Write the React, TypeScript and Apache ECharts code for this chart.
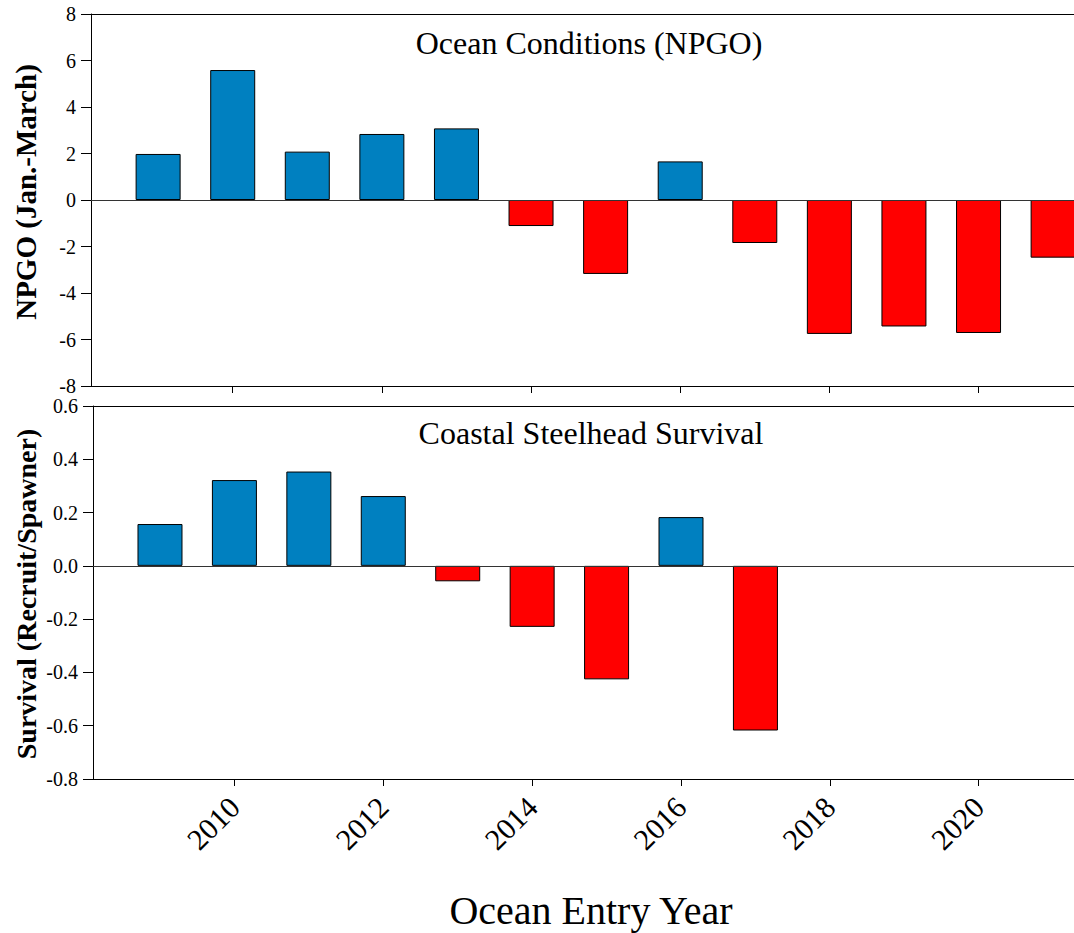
import React, { useEffect, useRef } from "react";
import * as echarts from "echarts";

// ---- Data ----
const npgoYears = [2009, 2010, 2011, 2012, 2013, 2014, 2015, 2016, 2017, 2018, 2019, 2020, 2021];
const npgoValues = [1.98, 5.59, 2.08, 2.84, 3.08, -1.12, -3.18, 1.66, -1.85, -5.76, -5.44, -5.72, -2.48];

const survivalYears = [2009, 2010, 2011, 2012, 2013, 2014, 2015, 2016, 2017];
const survivalValues = [0.157, 0.322, 0.354, 0.262, -0.058, -0.229, -0.426, 0.183, -0.618];

const xTickYears = [2010, 2012, 2014, 2016, 2018, 2020];

const npgoTitle = "Ocean Conditions (NPGO)";
const survivalTitle = "Coastal Steelhead Survival";
const npgoAxisName = "NPGO (Jan.-March)";
const survivalAxisName = "Survival (Recruit/Spawner)";
const xAxisName = "Ocean Entry Year";

const X_MIN = 2008.1;
const X_MAX = 2021.28;

const BLUE = "#0080C0";
const RED = "#FF0000";
const SERIF = "Liberation Serif";

function buildOption(): any {
  const barColor = (p: any) => (p.value[1] >= 0 ? BLUE : RED);
  const zeroLine = {
    silent: true,
    symbol: ["none", "none"],
    label: { show: false },
    lineStyle: { color: "#333", width: 1, type: "solid" },
    data: [{ yAxis: 0 }],
  };
  const axisLineStyle = { color: "#000", width: 1 };

  const bottomAxisBase = {
    type: "value",
    min: X_MIN,
    max: X_MAX,
    position: "bottom",
    axisLine: { show: true, onZero: false, lineStyle: axisLineStyle },
    axisTick: { show: true, customValues: xTickYears, length: 7, lineStyle: axisLineStyle },
    splitLine: { show: false },
  };
  const topAxisBase = {
    type: "value",
    min: X_MIN,
    max: X_MAX,
    position: "top",
    axisLine: { show: true, onZero: false, lineStyle: axisLineStyle },
    axisTick: { show: false },
    axisLabel: { show: false },
    splitLine: { show: false },
  };

  return {
    animation: false,
    backgroundColor: "#fff",
    textStyle: { fontFamily: SERIF, color: "#000" },
    grid: [
      { left: 91, top: 14, width: 983, height: 372, containLabel: false },
      { left: 93, top: 406, width: 981, height: 373, containLabel: false },
    ],
    xAxis: [
      { ...bottomAxisBase, gridIndex: 0, axisLabel: { show: false } },
      { ...topAxisBase, gridIndex: 0 },
      {
        ...bottomAxisBase,
        gridIndex: 1,
        axisLabel: {
          show: true,
          customValues: xTickYears,
          rotate: 45,
          margin: 23,
          fontSize: 30,
          fontFamily: SERIF,
          color: "#000",
          formatter: (v: number) => String(Math.round(v)),
        },
      },
      { ...topAxisBase, gridIndex: 1 },
    ],
    yAxis: [
      {
        type: "value",
        gridIndex: 0,
        min: -8,
        max: 8,
        interval: 2,
        axisLine: { show: true, onZero: false, lineStyle: axisLineStyle },
        axisTick: { show: true, length: 10, lineStyle: axisLineStyle },
        axisLabel: {
          show: true,
          margin: 15,
          fontSize: 20,
          fontFamily: SERIF,
          color: "#000",
          showMinLabel: true,
          showMaxLabel: true,
          formatter: (v: number) => String(Math.round(v)),
        },
        splitLine: { show: false },
      },
      {
        type: "value",
        gridIndex: 1,
        min: -0.8,
        max: 0.6,
        interval: 0.2,
        axisLine: { show: true, onZero: false, lineStyle: axisLineStyle },
        axisTick: { show: true, length: 10, lineStyle: axisLineStyle },
        axisLabel: {
          show: true,
          margin: 15,
          fontSize: 20,
          fontFamily: SERIF,
          color: "#000",
          showMinLabel: true,
          showMaxLabel: true,
          formatter: (v: number) => v.toFixed(1),
        },
        splitLine: { show: false },
      },
    ],
    series: [
      {
        name: "NPGO",
        type: "bar",
        xAxisIndex: 0,
        yAxisIndex: 0,
        barWidth: 45,
        data: npgoYears.map((y, i) => [y, npgoValues[i]]),
        itemStyle: { color: barColor, borderColor: "#000", borderWidth: 1 },
        markLine: zeroLine,
      },
      {
        name: "Survival",
        type: "bar",
        xAxisIndex: 2,
        yAxisIndex: 1,
        barWidth: 45,
        data: survivalYears.map((y, i) => [y, survivalValues[i]]),
        itemStyle: { color: barColor, borderColor: "#000", borderWidth: 1 },
        markLine: zeroLine,
      },
    ],
    graphic: [
      {
        type: "text",
        x: 589,
        y: 43,
        style: { text: npgoTitle, fontSize: 32, fontFamily: SERIF, fill: "#000", align: "center", verticalAlign: "middle" },
      },
      {
        type: "text",
        x: 591,
        y: 433,
        style: { text: survivalTitle, fontSize: 32, fontFamily: SERIF, fill: "#000", align: "center", verticalAlign: "middle" },
      },
      {
        type: "text",
        x: 26,
        y: 192,
        rotation: Math.PI / 2,
        style: { text: npgoAxisName, fontSize: 29, fontWeight: "bold", fontFamily: SERIF, fill: "#000", align: "center", verticalAlign: "middle" },
      },
      {
        type: "text",
        x: 26,
        y: 594,
        rotation: Math.PI / 2,
        style: { text: survivalAxisName, fontSize: 28, fontWeight: "bold", fontFamily: SERIF, fill: "#000", align: "center", verticalAlign: "middle" },
      },
      {
        type: "text",
        x: 591,
        y: 910,
        style: { text: xAxisName, fontSize: 40, fontFamily: SERIF, fill: "#000", align: "center", verticalAlign: "middle" },
      },
    ],
  };
}

export default function App() {
  const ref = useRef<HTMLDivElement>(null);
  useEffect(() => {
    if (!ref.current) return;
    const chart = echarts.init(ref.current, null, { renderer: "svg" });
    chart.setOption(buildOption());
    return () => chart.dispose();
  }, []);
  return (
    <div
      ref={ref}
      style={{ position: "fixed", left: 0, top: 0, width: 1074, height: 933, background: "#fff" }}
    />
  );
}
